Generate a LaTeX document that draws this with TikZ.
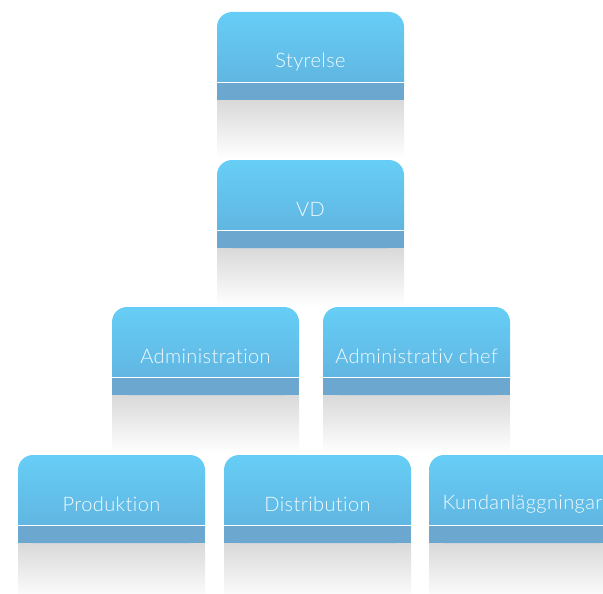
\documentclass[tikz,border=0pt]{standalone}
\usepackage{fontspec}
\setmainfont{Lato Light}[Ligatures=NoCommon, LetterSpace=2]
\usetikzlibrary{positioning}

\definecolor{boxtop}{HTML}{66CEF6}
\definecolor{boxbottom}{HTML}{5FB0DC}
\definecolor{boxstrip}{HTML}{6CA7D0}
\definecolor{mirror}{HTML}{D9D9D9}

\tikzset{
  boxtext/.style={anchor=center, align=center, text=white!92!boxtop,
    font=\fontsize{20}{24}\selectfont},
  boxface/.style={top color=boxtop, bottom color=boxbottom, rounded corners=15pt},
  boxmirror/.style={top color=mirror, bottom color=white},
}

% name, left x, top y, label
\newcommand{\orgbox}[4]{
  \shade[boxmirror] (#2,#3+88) rectangle (#2+187,#3+146);
  \shade[boxface] (#2,#3) rectangle (#2+187,#3+88);
  \fill[boxstrip] (#2,#3+71) rectangle (#2+187,#3+88);
  \draw[white, line width=1.6pt] (#2,#3+70.5) -- (#2+187,#3+70.5);
  \node[boxtext] (#1) at (#2+93.5,#3+49.5) {#4};
}

\begin{document}
\begin{tikzpicture}[x=1pt,y=-1pt]
\useasboundingbox (0,0) rectangle (603,594);
\clip (0,0) rectangle (603,594);

\orgbox{styrelse}{217}{12}{Styrelse}
\orgbox{vd}{217}{160}{VD}

\orgbox{admin}{112}{307}{Administration}
\orgbox{adminchef}{323}{307}{Administrativ chef}

\orgbox{produktion}{18}{455}{Produktion}
\orgbox{distribution}{224}{455}{Distribution}
\orgbox{kund}{429}{455}{Kundanläggningar}

\end{tikzpicture}
\end{document}
